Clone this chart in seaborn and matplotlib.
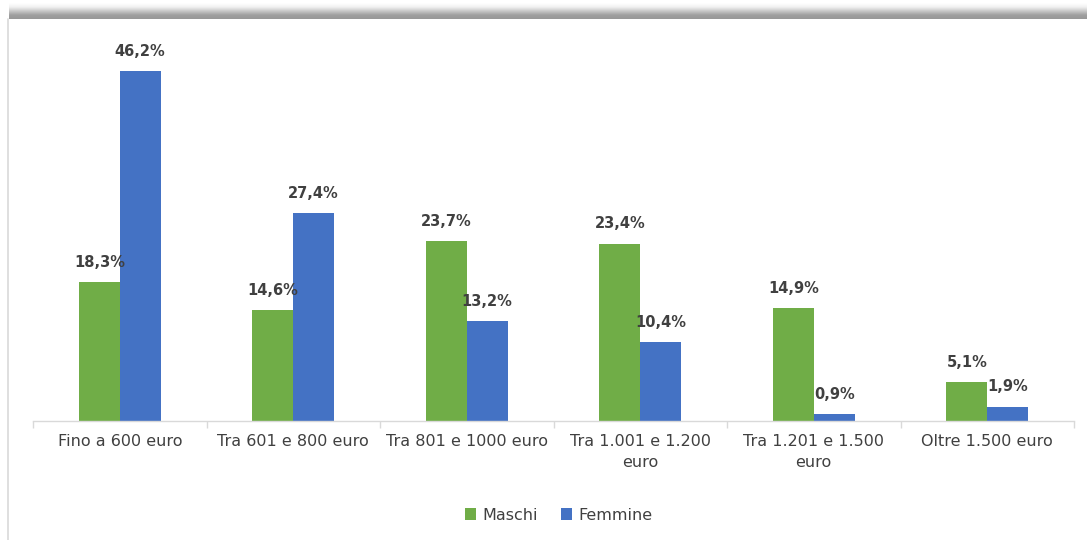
import matplotlib
matplotlib.use("Agg")
import matplotlib.pyplot as plt
import seaborn as sns
import pandas as pd
import numpy as np

categories = ["Fino a 600 euro", "Tra 601 e 800 euro", "Tra 801 e 1000 euro",
              "Tra 1.001 e 1.200\neuro", "Tra 1.201 e 1.500\neuro", "Oltre 1.500 euro"]
maschi = [18.3, 14.6, 23.7, 23.4, 14.9, 5.1]
femmine = [46.2, 27.4, 13.2, 10.4, 0.9, 1.9]
series = ["Maschi", "Femmine"]
colors = {"Maschi": "#70AD47", "Femmine": "#4472C4"}

df = pd.DataFrame({
    "cat": categories * 2,
    "val": maschi + femmine,
    "serie": ["Maschi"] * len(categories) + ["Femmine"] * len(categories),
})

sns.set_theme(style="white")
plt.rcParams['font.family'] = ['DejaVu Sans']
txt = "#404040"

W, H = 1087, 540
fig = plt.figure(figsize=(W / 100, H / 100), dpi=100)
fig.patch.set_facecolor("white")

# top shadow band
grad = np.linspace(0, 1, 40).reshape(-1, 1)
sh = fig.add_axes([9 / W, (H - 19) / H, 1 - 9 / W, 16 / H])
sh.imshow(grad, aspect="auto", cmap=matplotlib.colors.LinearSegmentedColormap.from_list(
    "g", ["#ffffff", "#f0f0f0", "#c8c8c8", "#a0a0a0", "#989898"]), extent=[0, 1, 0, 1])
sh.axis("off")
# left border line
fig.add_artist(plt.Line2D([8 / W, 8 / W], [0, (H - 19) / H], color="#d9d9d9", lw=1.2))

ax = fig.add_axes([33 / W, (H - 421) / H, (1074 - 33) / W, (421 - 40) / H])
sns.barplot(data=df, x="cat", y="val", hue="serie", hue_order=series,
            palette=colors, width=0.47, ax=ax, saturation=1, legend=True,
            linewidth=0)

ax.set_ylim(0, 50.3)
ax.set_xlim(-0.5, len(categories) - 0.5)
for c, s in zip(ax.containers, series):
    vals = maschi if s == "Maschi" else femmine
    ax.bar_label(c, labels=[f"{v:.1f}".replace(".", ",") + "%" for v in vals],
                 padding=9, fontsize=10.5, fontweight="bold", color=txt)

ax.set_xlabel("")
ax.set_ylabel("")
ax.set_yticks([])
for sp in ["top", "right", "left"]:
    ax.spines[sp].set_visible(False)
ax.spines["bottom"].set_color("#d9d9d9")
ax.spines["bottom"].set_linewidth(1)
ax.set_xticks(range(len(categories)))
ax.set_xticklabels(categories, fontsize=11.5, color=txt, linespacing=1.55)
ax.tick_params(axis="x", which="major", length=0, pad=9)
ax.set_xticks(np.arange(-0.5, len(categories), 1.0), minor=True)
ax.tick_params(axis="x", which="minor", length=5, color="#d9d9d9", width=1, bottom=True)

ax.legend(loc="center", bbox_to_anchor=(0.505, (H - 515 - (H - 421)) / (421 - 40)),
          ncol=2, frameon=False, fontsize=11.5, handlelength=0.7, handleheight=0.7,
          handletextpad=0.4, columnspacing=1.4, labelcolor=txt)

fig.savefig("out.png", dpi=100, facecolor="white")
